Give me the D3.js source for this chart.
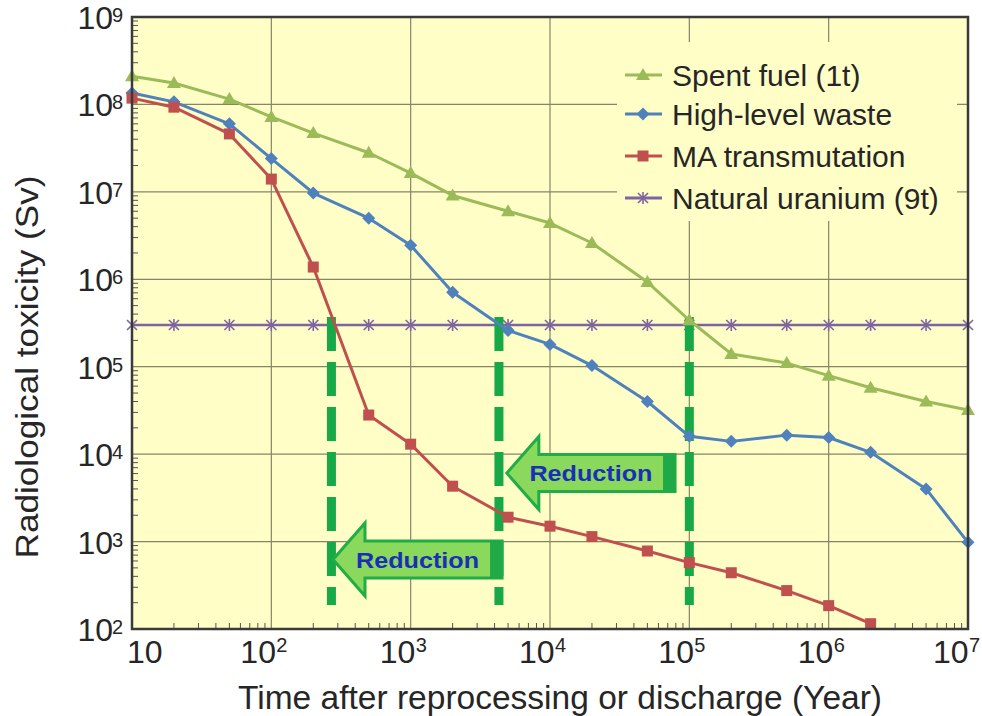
<!DOCTYPE html>
<html>
<head>
<meta charset="utf-8">
<script src="https://cdn.jsdelivr.net/npm/d3@7"></script>
<style>
  html, body { margin: 0; padding: 0; background: #fff; }
  svg { display: block; font-family: "Liberation Sans", Arial, sans-serif; }
</style>
</head>
<body>
<svg id="chart" width="982" height="716"></svg>
<script>
// time after reprocessing (years)
const years = [10, 20, 50, 100, 200, 500, 1000, 2000, 5000, 1e4, 2e4, 5e4, 1e5, 2e5, 5e5, 1e6, 2e6, 5e6, 1e7];
// radiological toxicity (Sv)
const spentFuel = [2.1e8, 1.76e8, 1.15e8, 7.2e7, 4.7e7, 2.8e7, 1.64e7, 9.1e6, 6.0e6, 4.4e6, 2.6e6, 9.3e5, 3.4e5, 1.4e5, 1.1e5, 7.9e4, 5.75e4, 4.0e4, 3.2e4];
const highLevelWaste = [1.35e8, 1.07e8, 6.0e7, 2.4e7, 9.7e6, 5.0e6, 2.45e6, 7.1e5, 2.6e5, 1.8e5, 1.03e5, 4.0e4, 1.6e4, 1.4e4, 1.65e4, 1.55e4, 1.05e4, 4.0e3, 980];
const maTransmutation = [1.18e8, 9.3e7, 4.6e7, 1.4e7, 1.38e6, 2.8e4, 1.3e4, 4.3e3, 1.9e3, 1.5e3, 1.14e3, 780, 575, 440, 275, 185, 115, null, null];
const naturalUranium = [3e5, 3e5, 3e5, 3e5, 3e5, 3e5, 3e5, 3e5, 3e5, 3e5, 3e5, 3e5, 3e5, 3e5, 3e5, 3e5, 3e5, 3e5, 3e5];

const seriesNames = ["Spent fuel (1t)", "High-level waste", "MA transmutation", "Natural uranium (9t)"];
const seriesColors = ["#9bbb59", "#4f81bd", "#c0504d", "#8064a2"];
const seriesMarkers = ["triangle", "diamond", "square", "star"];

// where each curve drops to the natural uranium level
const crossingYears = [270, 4300, 1e5];
// reduction arrows: tip year, tail year, level (Sv)
const arrowTips = [277, 4900];
const arrowTails = [4530, 79000];
const arrowLevels = [622, 6070];
const arrowLabel = "Reduction";

const xTickLabels = [["10", ""], ["10", "2"], ["10", "3"], ["10", "4"], ["10", "5"], ["10", "6"], ["10", "7"]];
const yTickLabels = [["10", "2"], ["10", "3"], ["10", "4"], ["10", "5"], ["10", "6"], ["10", "7"], ["10", "8"], ["10", "9"]];

const svg = d3.select("#chart");
const plotL = 132, plotR = 968, plotT = 17, plotB = 629;

const x = d3.scaleLog().domain([10, 1e7]).range([plotL, plotR]);
const y = d3.scaleLog().domain([100, 1e9]).range([plotB, plotT]);

const xMajors = [10, 100, 1e3, 1e4, 1e5, 1e6, 1e7];
const yMajors = [100, 1e3, 1e4, 1e5, 1e6, 1e7, 1e8, 1e9];

// plot background
svg.append("rect")
  .attr("x", plotL).attr("y", plotT)
  .attr("width", plotR - plotL).attr("height", plotB - plotT)
  .attr("fill", "#fefec6");

// grid
const grid = svg.append("g").attr("stroke", "#85856a").attr("stroke-width", 1.2);
grid.selectAll(".gx").data(xMajors).enter().append("line")
  .attr("x1", d => x(d)).attr("x2", d => x(d))
  .attr("y1", plotT).attr("y2", plotB);
grid.selectAll(".gy").data(yMajors).enter().append("line")
  .attr("x1", plotL).attr("x2", plotR)
  .attr("y1", d => y(d)).attr("y2", d => y(d));

// legend box hides the grid behind it
svg.append("rect")
  .attr("x", 617).attr("y", 42).attr("width", 340).attr("height", 179)
  .attr("fill", "#fefec6");

// minor ticks (inside)
const minorY = [];
yMajors.slice(0, -1).forEach(d => { for (let k = 2; k < 10; k++) minorY.push(d * k); });
const minorX = [];
xMajors.slice(0, -1).forEach(d => { for (let k = 2; k < 10; k++) minorX.push(d * k); });
const ticks = svg.append("g").attr("stroke", "#555").attr("stroke-width", 1);
ticks.selectAll(".my").data(minorY).enter().append("line")
  .attr("x1", plotL).attr("x2", plotL + 6)
  .attr("y1", d => y(d)).attr("y2", d => y(d));
ticks.selectAll(".mx").data(minorX).enter().append("line")
  .attr("x1", d => x(d)).attr("x2", d => x(d))
  .attr("y1", plotB).attr("y2", plotB - 6);

// marker drawing
function marker(sel, type, color) {
  if (type === "triangle") {
    sel.append("path").attr("d", "M0,-7L7,5L-7,5Z").attr("fill", color);
  } else if (type === "diamond") {
    sel.append("path").attr("d", "M0,-6.5L6.5,0L0,6.5L-6.5,0Z").attr("fill", color);
  } else if (type === "square") {
    sel.append("rect").attr("x", -5.5).attr("y", -5.5).attr("width", 11).attr("height", 11).attr("fill", color);
  } else {
    sel.append("path").attr("d", "M-5,-5L5,5M-5,5L5,-5M0,-6L0,6")
      .attr("stroke", color).attr("stroke-width", 1.6).attr("fill", "none");
  }
}

const allSeries = [spentFuel, highLevelWaste, maTransmutation, naturalUranium];
const line = d3.line()
  .defined(d => d[1] != null)
  .x(d => x(d[0])).y(d => y(d[1]));

function drawSeries(i) {
  const pts = years.map((yr, j) => [yr, allSeries[i][j]]);
  const g = svg.append("g");
  g.append("path").datum(pts)
    .attr("d", line)
    .attr("fill", "none")
    .attr("stroke", seriesColors[i])
    .attr("stroke-width", i === 3 ? 2.6 : 3)
    .attr("stroke-linejoin", "round");
  g.selectAll("g.pt").data(pts.filter(d => d[1] != null)).enter().append("g")
    .attr("transform", d => "translate(" + x(d[0]) + "," + y(d[1]) + ")")
    .each(function () { marker(d3.select(this), seriesMarkers[i], seriesColors[i]); });
}

drawSeries(3);

// dashed crossing lines
svg.append("g").selectAll("line").data(crossingYears).enter().append("line")
  .attr("x1", d => x(d)).attr("x2", d => x(d))
  .attr("y1", y(naturalUranium[0]) - 8).attr("y2", 605)
  .attr("stroke", "#17a848").attr("stroke-width", 9)
  .attr("stroke-dasharray", "34,11");

drawSeries(0);
drawSeries(1);
drawSeries(2);

// reduction arrows
arrowTips.forEach((tip, i) => {
  const x0 = x(tip), x1 = x(arrowTails[i]), yc = y(arrowLevels[i]);
  const headLen = 32, headH = 36.5, shaftH = 18.5;
  const g = svg.append("g");
  g.append("path")
    .attr("d", `M${x0},${yc}L${x0 + headLen},${yc - headH}L${x0 + headLen},${yc - shaftH}L${x1},${yc - shaftH}L${x1},${yc + shaftH}L${x0 + headLen},${yc + shaftH}L${x0 + headLen},${yc + headH}Z`)
    .attr("fill", "#8ad85c").attr("stroke", "#20ac47").attr("stroke-width", 3)
    .attr("stroke-linejoin", "miter");
  g.append("rect")
    .attr("x", x1 - 12).attr("y", yc - shaftH).attr("width", 12).attr("height", shaftH * 2)
    .attr("fill", "#1fa947");
  g.append("text")
    .attr("x", (x0 + x1) / 2).attr("y", yc + 8)
    .attr("text-anchor", "middle")
    .attr("font-size", 22).attr("font-weight", "bold")
    .attr("fill", "#1a2fb8")
    .attr("textLength", 123).attr("lengthAdjust", "spacingAndGlyphs")
    .text(arrowLabel);
});

// frame
svg.append("rect")
  .attr("x", plotL).attr("y", plotT)
  .attr("width", plotR - plotL).attr("height", plotB - plotT)
  .attr("fill", "none").attr("stroke", "#3a3a3a").attr("stroke-width", 2.5);

// legend
const legendRowY = [75, 114, 156, 198];
const lg = svg.append("g");
seriesNames.forEach((name, i) => {
  const row = lg.append("g").attr("transform", "translate(0," + legendRowY[i] + ")");
  row.append("line").attr("x1", 625).attr("x2", 662)
    .attr("stroke", seriesColors[i]).attr("stroke-width", 3);
  const m = row.append("g").attr("transform", "translate(643,0)");
  marker(m, seriesMarkers[i], seriesColors[i]);
  row.append("text").attr("x", 672).attr("y", 10.5)
    .attr("font-size", 30).attr("fill", "#262626")
    .text(name);
});

// y tick labels
const yl = svg.append("g").attr("fill", "#262626");
yMajors.forEach((d, i) => {
  yl.append("text").attr("x", 113).attr("y", y(d) + 12)
    .attr("font-size", 32).attr("text-anchor", "end")
    .text(yTickLabels[i][0]);
  yl.append("text").attr("x", 112).attr("y", y(d) + 5)
    .attr("font-size", 20).text(yTickLabels[i][1]);
});

// x tick labels
const xl = svg.append("g").attr("fill", "#262626");
xMajors.forEach((d, i) => {
  let x0 = x(d) - 31;
  if (i === 0) x0 = x(d) - 5;
  if (i === xMajors.length - 1) x0 = x(d) - 35;
  xl.append("text").attr("x", x0).attr("y", 663)
    .attr("font-size", 32).text(xTickLabels[i][0]);
  if (xTickLabels[i][1]) {
    xl.append("text").attr("x", x0 + 36).attr("y", 652)
      .attr("font-size", 20).text(xTickLabels[i][1]);
  }
});

// axis titles
svg.append("text")
  .attr("x", 560).attr("y", 709)
  .attr("text-anchor", "middle").attr("font-size", 33).attr("fill", "#262626")
  .attr("textLength", 644).attr("lengthAdjust", "spacingAndGlyphs")
  .text("Time after reprocessing or discharge (Year)");

svg.append("text")
  .attr("transform", "translate(38,367) rotate(-90)")
  .attr("text-anchor", "middle").attr("font-size", 32).attr("fill", "#262626")
  .attr("textLength", 383).attr("lengthAdjust", "spacingAndGlyphs")
  .text("Radiological toxicity (Sv)");
</script>
</body>
</html>
